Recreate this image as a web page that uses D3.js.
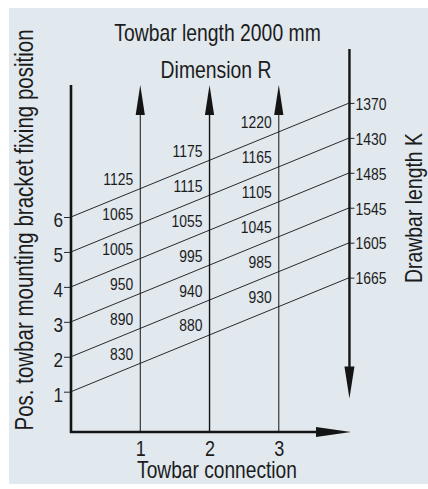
<!DOCTYPE html>
<html><head><meta charset="utf-8">
<script src="https://cdn.jsdelivr.net/npm/d3@7"></script>
<style>
html,body{margin:0;padding:0;background:#fff;}
svg{display:block;}
text{font-family:"Liberation Sans",Arimo,Arial,sans-serif;fill:#1c1c1c;}
</style></head><body>
<svg id="c" width="428" height="489"></svg>
<script>
// ---- data ----
const positions = [1, 2, 3, 4, 5, 6];            // towbar mounting bracket fixing position
const connections = [1, 2, 3];                    // towbar connection
const drawbarK = [1665, 1605, 1545, 1485, 1430, 1370]; // drawbar length K for positions 1..6
const dimR1 = [830, 890, 950, 1005, 1065, 1125];  // dimension R at connection 1
const dimR2 = [880, 940, 995, 1055, 1115, 1175];  // dimension R at connection 2
const dimR3 = [930, 985, 1045, 1105, 1165, 1220]; // dimension R at connection 3
const dimR = [dimR1, dimR2, dimR3];
const titleText = "Towbar length 2000 mm";
const subTitle = "Dimension R";
const xTitle = "Towbar connection";
const yTitle = "Pos. towbar mounting bracket fixing position";
const kTitle = "Drawbar length K";

// ---- layout ----
const svg = d3.select("#c");
const x = d3.scaleLinear().domain([0, 3]).range([71, 278.8]);
const y = d3.scaleLinear().domain([1, 6]).range([391.7, 217]);
const rightConn = 4.02;          // right axis location in connection units
const rise = 3.265;              // position units a line rises from left to right axis
const slope = rise / rightConn;
const axisBottomY = 432, axisTopY = 85, rightTopY = 49, rightTipY = 398.5;
const xR = x(rightConn);
const ink = "#141414";
const NARROW = 0.82;

// condensed text: move x/y into a transform and squeeze horizontally
function condense(sel) {
  sel.each(function () {
    const t = d3.select(this);
    const tx = +t.attr("x") || 0, ty = +t.attr("y") || 0;
    const prev = t.attr("transform") || "";
    t.attr("x", 0).attr("y", 0)
     .attr("transform", `${prev} translate(${tx},${ty}) scale(${NARROW},1)`);
  });
}

svg.append("rect").attr("x", 9).attr("y", 8).attr("width", 419).attr("height", 476).attr("fill", "#e1e8ee");

// diagonal lines
svg.append("g").selectAll("line").data(positions).join("line")
  .attr("x1", x(0)).attr("y1", d => y(d))
  .attr("x2", xR).attr("y2", d => y(d + rise))
  .attr("stroke", ink).attr("stroke-width", 0.9);

// connection vertical lines with up arrows
const vg = svg.append("g");
vg.selectAll("line").data(connections).join("line")
  .attr("x1", d => x(d)).attr("x2", d => x(d))
  .attr("y1", axisBottomY).attr("y2", axisTopY + 20)
  .attr("stroke", ink).attr("stroke-width", d => d === 2 ? 1.4 : 1);
vg.selectAll("path").data(connections).join("path")
  .attr("d", d => `M${x(d)},${axisTopY} L${x(d) + 4.6},${axisTopY + 30} L${x(d) - 4.6},${axisTopY + 30} Z`)
  .attr("fill", ink);

// left axis
svg.append("line").attr("x1", x(0)).attr("x2", x(0)).attr("y1", axisTopY).attr("y2", axisBottomY + 1)
  .attr("stroke", ink).attr("stroke-width", 2.6);
const la = svg.append("g").attr("transform", `translate(${x(0)},0)`)
  .call(d3.axisLeft(y).tickValues(positions).tickSize(7).tickPadding(1).tickFormat(d3.format("d")));
la.select(".domain").remove();
la.selectAll(".tick line").attr("stroke", ink).attr("stroke-width", 0.9);
la.selectAll(".tick text").attr("font-size", 21).attr("y", 9.5).attr("dy", 0).attr("fill", "#1c1c1c").call(condense);

// bottom axis
svg.append("line").attr("x1", x(0) - 1).attr("x2", 318).attr("y1", axisBottomY).attr("y2", axisBottomY)
  .attr("stroke", ink).attr("stroke-width", 2.4);
svg.append("path").attr("d", `M351,${axisBottomY} L316,${axisBottomY - 5} L316,${axisBottomY + 5} Z`).attr("fill", ink);
const ba = svg.append("g").attr("transform", `translate(0,${axisBottomY})`)
  .call(d3.axisBottom(x).tickValues(connections).tickSize(0).tickPadding(0).tickFormat(d3.format("d")));
ba.select(".domain").remove();
ba.selectAll(".tick text").attr("font-size", 22).attr("y", 24).attr("dy", 0).attr("fill", "#1c1c1c").call(condense);

// right axis (drawbar length K)
svg.append("line").attr("x1", xR).attr("x2", xR).attr("y1", rightTopY).attr("y2", rightTipY - 30)
  .attr("stroke", ink).attr("stroke-width", 2.4);
svg.append("path").attr("d", `M${xR},${rightTipY} L${xR - 5},${rightTipY - 32} L${xR + 5},${rightTipY - 32} Z`).attr("fill", ink);
const yK = d3.scaleLinear().domain([1, 6]).range([y(1 + rise), y(6 + rise)]);
const ra = svg.append("g").attr("transform", `translate(${xR},0)`)
  .call(d3.axisRight(yK).tickValues(positions).tickSize(5).tickPadding(1).tickFormat(p => drawbarK[p - 1]));
ra.select(".domain").remove();
ra.selectAll(".tick line").attr("stroke", ink).attr("stroke-width", 0.9);
ra.selectAll(".tick text").attr("font-size", 17).attr("y", 6.3).attr("dy", 0).attr("fill", "#2a2a2a").call(condense);

// dimension R labels
connections.forEach((c, ci) => {
  svg.append("g").selectAll("text").data(positions).join("text")
    .attr("x", x(c) - 7)
    .attr("y", p => y(p + slope * c) - 3.5)
    .attr("text-anchor", "end").attr("font-size", 17).attr("fill", "#2a2a2a")
    .text((p, i) => dimR[ci][i])
    .call(condense);
});

// titles
svg.append("text").attr("x", 217.5).attr("y", 40.7).attr("text-anchor", "middle").attr("font-size", 23.6).text(titleText).call(condense);
svg.append("text").attr("x", 216).attr("y", 78.3).attr("text-anchor", "middle").attr("font-size", 23.6).text(subTitle).call(condense);
svg.append("text").attr("x", 217).attr("y", 478.3).attr("text-anchor", "middle").attr("font-size", 23.4).text(xTitle).call(condense);
svg.append("text").attr("transform", "translate(33,230) rotate(-90)").attr("text-anchor", "middle").attr("font-size", 25).text(yTitle).call(condense);
svg.append("text").attr("transform", "translate(422.3,208) rotate(-90)").attr("text-anchor", "middle").attr("font-size", 23.7).text(kTitle).call(condense);
</script>
</body></html>
